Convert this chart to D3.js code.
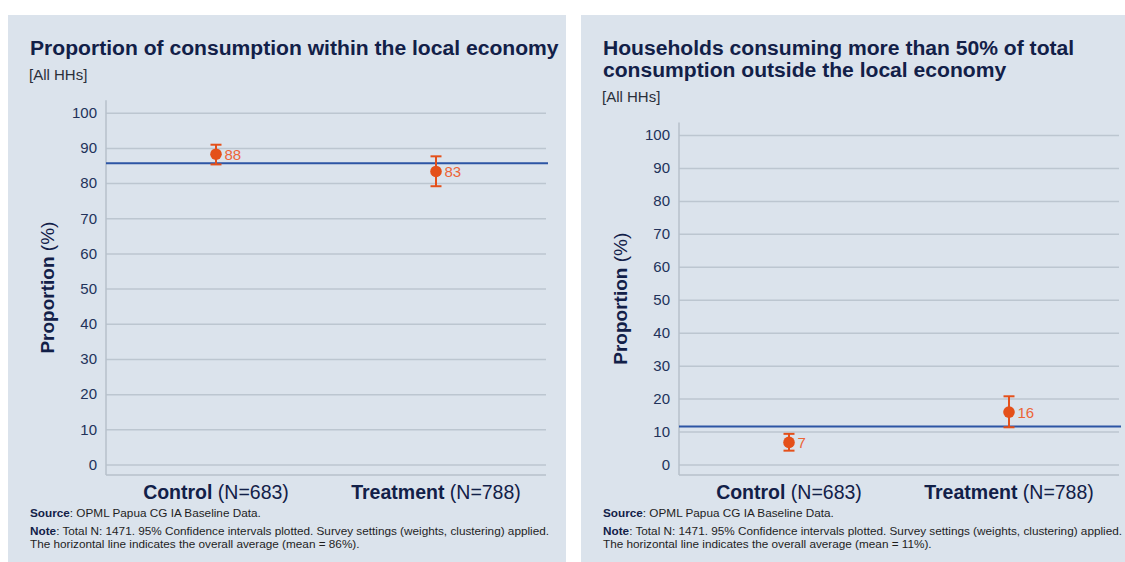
<!DOCTYPE html>
<html>
<head>
<meta charset="utf-8">
<script src="https://cdn.jsdelivr.net/npm/d3@7"></script>
<style>
  html, body { margin: 0; padding: 0; background: #ffffff; }
  svg { display: block; font-family: "Liberation Sans", Arial, Helvetica, sans-serif; }
</style>
</head>
<body>
<svg id="chart" width="1125" height="562"></svg>
<script>
// ---------- data ----------
const categories = ["Control", "Treatment"];
const groupN = [683, 788];
const yTicks = [0, 10, 20, 30, 40, 50, 60, 70, 80, 90, 100];

// Panel 1: Proportion of consumption within the local economy
const p1Title = ["Proportion of consumption within the local economy"];
const p1Values = [88.2, 83.3];
const p1CiLow = [85.3, 79.1];
const p1CiHigh = [90.9, 87.6];
const p1Mean = 85.6;
const p1NoteMean = "86%";

// Panel 2: Households consuming >50% outside local economy
const p2Title = ["Households consuming more than 50% of total", "consumption outside the local economy"];
const p2Values = [6.7, 15.9];
const p2CiLow = [4.2, 11.3];
const p2CiHigh = [9.3, 20.7];
const p2Mean = 11.5;
const p2NoteMean = "11%";

const subtitle = "[All HHs]";
const sourceText = "OPML Papua CG IA Baseline Data.";
const noteText = "Total N: 1471. 95% Confidence intervals plotted. Survey settings (weights, clustering) applied.";

// ---------- drawing ----------
const svg = d3.select("#chart");
const navy = "#122048";
const orange = "#e4501a";
const labelOrange = "#ec6537";

function drawPanel(ox, title, values, lo, hi, mean, noteMean, plotTop) {
  const g = svg.append("g").attr("transform", `translate(${ox},0)`);
  g.append("rect").attr("x", 8).attr("y", 15).attr("width", 558).attr("height", 547).attr("fill", "#dbe3ec");

  // title
  title.forEach((t, i) => {
    g.append("text").attr("x", 30).attr("y", 55 + i * 21.5)
      .attr("font-size", 21.1).attr("font-weight", "bold").attr("fill", navy).text(t);
  });
  const subY = 55 + (title.length - 1) * 21.5 + 25;
  g.append("text").attr("x", 29).attr("y", subY).attr("font-size", 15).attr("fill", "#2a2f3a").text(subtitle);

  const axisX = 106, gridEnd = 546, xAxisY = 475;
  const y100 = plotTop, y0 = 464.5;
  const y = d3.scaleLinear().domain([0, 100]).range([y0, y100]);
  const x = d3.scaleBand().domain(categories).range([axisX, gridEnd]).padding(0);

  // grid + ticks
  const ax = g.append("g").attr("transform", `translate(${axisX},0)`)
    .call(d3.axisLeft(y).tickValues(yTicks).tickSize(-(gridEnd - axisX)).tickPadding(9).tickFormat(d3.format("d")));
  ax.select(".domain").remove();
  ax.selectAll(".tick line").attr("stroke", "#bcc6d0").attr("stroke-width", 1.5);
  ax.selectAll(".tick text").attr("font-size", 15).attr("fill", "#22325a")
    .attr("font-family", '"Liberation Sans", Arial, sans-serif');

  // axis lines
  g.append("line").attr("x1", axisX).attr("x2", axisX).attr("y1", y100 - 12.5).attr("y2", xAxisY)
    .attr("stroke", "#b7c1cb").attr("stroke-width", 1.5);
  g.append("line").attr("x1", axisX).attr("x2", gridEnd).attr("y1", xAxisY).attr("y2", xAxisY)
    .attr("stroke", "#b7c1cb").attr("stroke-width", 1.5);

  // y label
  const yl = g.append("text")
    .attr("transform", `translate(54,${(y100 - 12.5 + xAxisY) / 2}) rotate(-90)`)
    .attr("text-anchor", "middle").attr("font-size", 19).attr("fill", navy);
  yl.append("tspan").attr("font-weight", "bold").text("Proportion");
  yl.append("tspan").text(" (%)");

  // mean line
  g.append("line").attr("x1", axisX).attr("x2", gridEnd + 2).attr("y1", y(mean)).attr("y2", y(mean))
    .attr("stroke", "#2c55a4").attr("stroke-width", 2);

  // error bars & points
  const cx = c => x(c) + x.bandwidth() / 2;
  const pts = g.append("g");
  categories.forEach((c, i) => {
    const px = cx(c);
    pts.append("line").attr("x1", px).attr("x2", px).attr("y1", y(lo[i])).attr("y2", y(hi[i]))
      .attr("stroke", orange).attr("stroke-width", 2);
    [lo[i], hi[i]].forEach(v => {
      pts.append("line").attr("x1", px - 5.5).attr("x2", px + 5.5).attr("y1", y(v)).attr("y2", y(v))
        .attr("stroke", orange).attr("stroke-width", 2);
    });
    pts.append("circle").attr("cx", px).attr("cy", y(values[i])).attr("r", 5.8).attr("fill", orange);
    pts.append("text").attr("x", px + 8.5).attr("y", y(values[i])).attr("dy", "0.36em")
      .attr("font-size", 15).attr("fill", labelOrange).text(d3.format(".0f")(values[i]));

    const xl = g.append("text").attr("x", px).attr("y", 499).attr("text-anchor", "middle")
      .attr("font-size", 19.5).attr("fill", navy);
    xl.append("tspan").attr("font-weight", "bold").text(c);
    xl.append("tspan").text(` (N=${groupN[i]})`);
  });

  // source / note
  const fs = 11.75;
  const s = g.append("text").attr("x", 30).attr("y", 517).attr("font-size", fs).attr("fill", "#1e1e1e");
  s.append("tspan").attr("font-weight", "bold").attr("fill", navy).text("Source");
  s.append("tspan").text(": " + sourceText);
  const n = g.append("text").attr("x", 30).attr("y", 535).attr("font-size", fs).attr("fill", "#1e1e1e");
  n.append("tspan").attr("font-weight", "bold").attr("fill", navy).text("Note");
  n.append("tspan").text(": " + noteText);
  g.append("text").attr("x", 30).attr("y", 547.5).attr("font-size", fs).attr("fill", "#1e1e1e")
    .text(`The horizontal line indicates the overall average (mean = ${noteMean}).`);
}

drawPanel(0, p1Title, p1Values, p1CiLow, p1CiHigh, p1Mean, p1NoteMean, 112.7);
drawPanel(573, p2Title, p2Values, p2CiLow, p2CiHigh, p2Mean, p2NoteMean, 135);
</script>
</body>
</html>
